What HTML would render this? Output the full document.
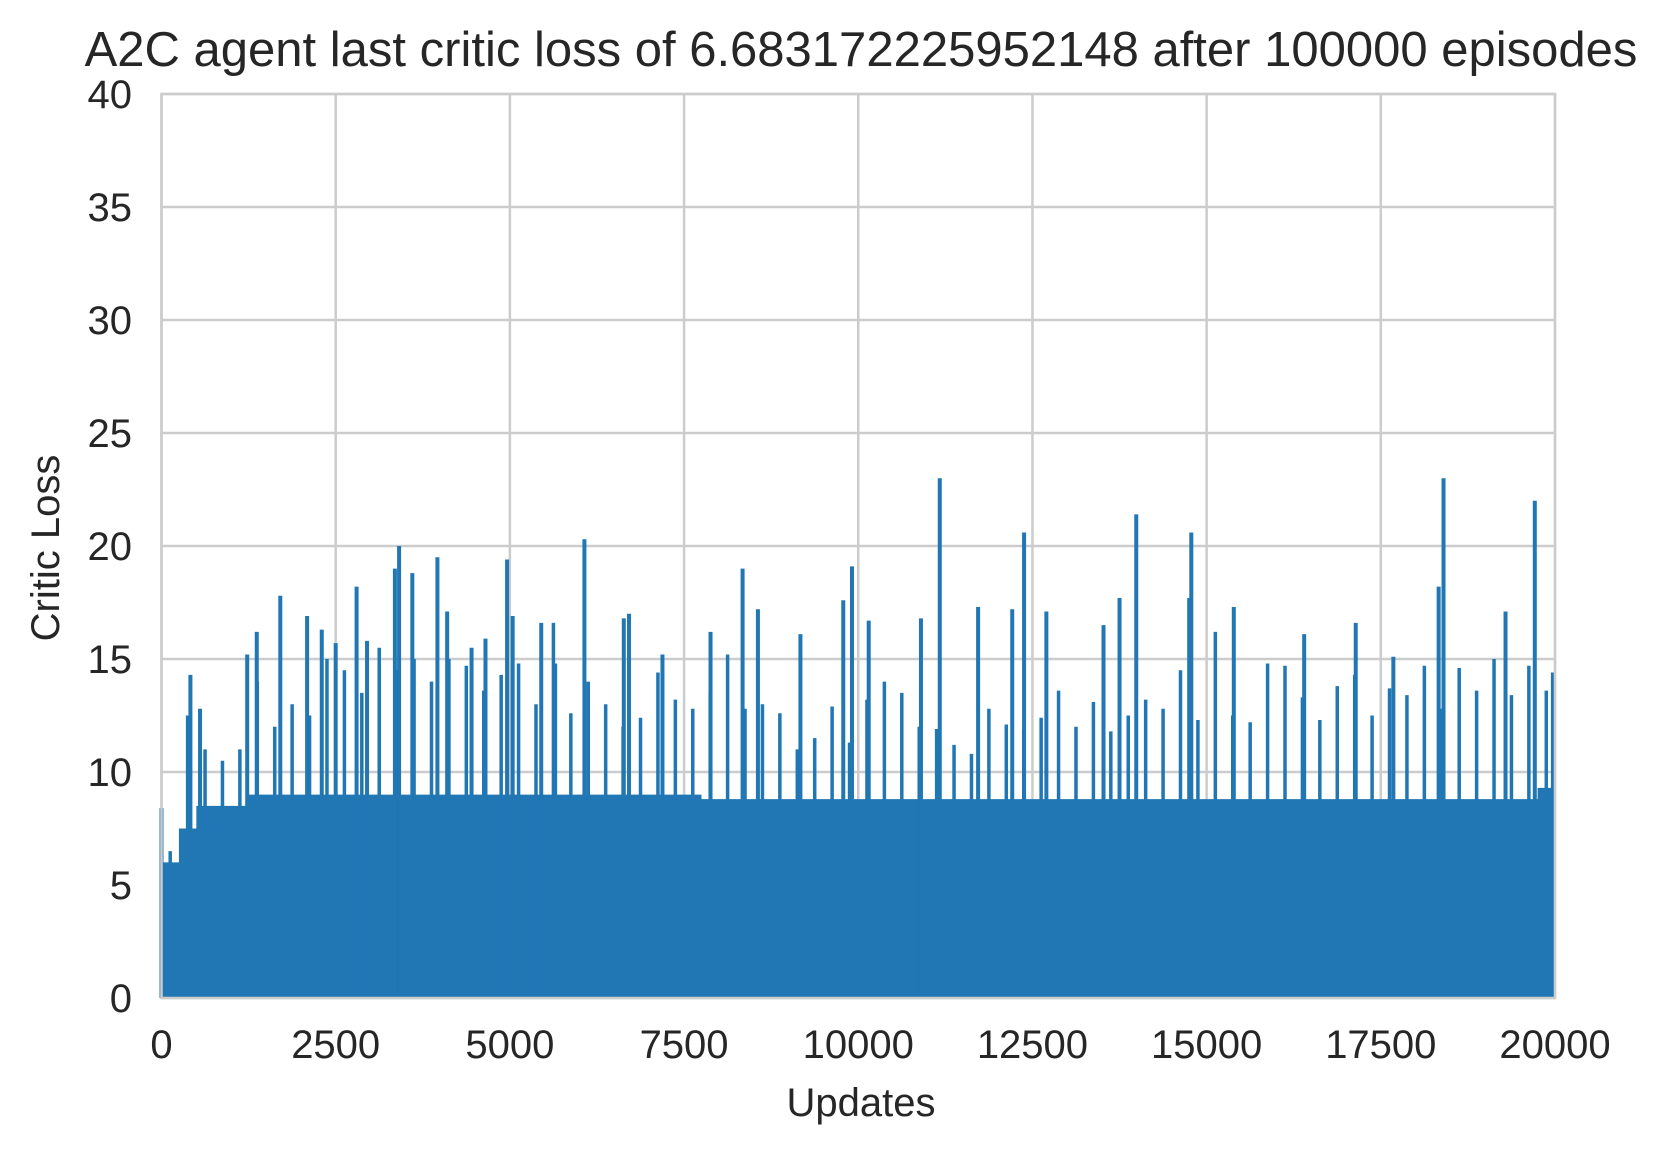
<!DOCTYPE html>
<html><head><meta charset="utf-8"><style>
html,body{margin:0;padding:0;background:#fff;}
svg text{font-family:"Liberation Sans",Arial,sans-serif;fill:#262626;}
</style></head><body>
<svg id="chart" width="1679" height="1149" xmlns="http://www.w3.org/2000/svg">
<text x="861" y="66" font-size="49" text-anchor="middle">A2C agent last critic loss of 6.683172225952148 after 100000 episodes</text>
<g id="grid"></g>
<g id="marks"></g>
<rect x="161.5" y="94" width="1393.5" height="904" fill="none" stroke="#cccccc" stroke-width="2.5"/>
<g id="ticks"></g>
<text x="861" y="1116" font-size="40" text-anchor="middle">Updates</text>
<text x="59" y="548" font-size="40" text-anchor="middle" transform="rotate(-90 59 548)">Critic Loss</text>
</svg>
<script>
const xTicks = [0,2500,5000,7500,10000,12500,15000,17500,20000];
const yTicks = [0,5,10,15,20,25,30,35,40];
const binSize = 250;
const spikeUpdates = [0,415,553,1230,1367,1705,2090,2300,2500,2800,2950,3350,3410,3600,3960,4100,4450,4650,4960,5040,5450,5650,6070,6635,6710,7190,7880,8340,8560,9170,9785,9910,10150,10900,11170,11720,12210,12380,12700,13520,13750,13990,14750,14780,15390,16400,17140,17680,18330,18400,19290,19710,19970];
const spikeValues = [8.4,14.3,12.8,15.2,16.2,17.8,16.9,16.3,15.7,18.2,15.8,19.0,20.0,18.8,19.5,17.1,15.5,15.9,19.4,16.9,16.6,14.8,20.3,16.8,17.0,15.2,16.2,19.0,17.2,16.1,17.6,19.1,16.7,16.8,23.0,17.3,17.2,20.6,17.1,16.5,17.7,21.4,17.7,20.6,17.3,16.1,16.6,15.1,18.2,23.0,17.1,22.0,14.4];
const midPeaks = [6.5,12.5,11.0,10.5,11.0,14.0,12.0,13.0,12.5,15.0,14.5,13.5,15.5,14.5,15.0,14.0,15.0,14.7,13.6,14.3,14.8,13.0,16.6,12.6,14.0,13.0,12.0,12.4,14.4,13.2,12.8,13.5,15.2,12.8,13.0,12.6,11.0,11.5,12.9,11.3,13.2,14.0,13.5,12.0,11.9,11.2,10.8,12.8,12.1,11.9,12.4,13.6,12.0,13.1,11.8,12.5,13.2,12.8,14.5,12.3,16.2,12.5,12.2,14.8,14.7,13.3,12.3,13.8,14.3,12.5,13.7,13.4,14.7,12.8,14.6,13.6,15.0,13.4,14.7,13.6];
const dense = [6.0,7.5,8.5,8.5,8.5,9.0,9.0,9.0,9.0,9.0,9.0,9.0,9.0,9.0,9.0,9.0,9.0,9.0,9.0,9.0,9.0,9.0,9.0,9.0,9.0,9.0,9.0,9.0,9.0,9.0,9.0,8.8,8.8,8.8,8.8,8.8,8.8,8.8,8.8,8.8,8.8,8.8,8.8,8.8,8.8,8.8,8.8,8.8,8.8,8.8,8.8,8.8,8.8,8.8,8.8,8.8,8.8,8.8,8.8,8.8,8.8,8.8,8.8,8.8,8.8,8.8,8.8,8.8,8.8,8.8,8.8,8.8,8.8,8.8,8.8,8.8,8.8,8.8,8.8,9.3];
const X0=161.5,X1=1555,Y0=998,Y1=94;
const xs=v=>X0+(v/20000)*(X1-X0);
const ys=v=>Y0-(v/40)*(Y0-Y1);
const NS="http://www.w3.org/2000/svg";
function mk(tag,attrs,parent){const e=document.createElementNS(NS,tag);for(const k in attrs)e.setAttribute(k,attrs[k]);parent.appendChild(e);return e;}
const grid=document.getElementById('grid'),ticks=document.getElementById('ticks'),marks=document.getElementById('marks');
xTicks.forEach(t=>{
  const l=mk('line',{x1:xs(t),x2:xs(t),y1:Y1,y2:Y0,stroke:'#cccccc','stroke-width':2.5},grid);
  
  
  const tx=mk('text',{x:xs(t),y:1058,'font-size':40,'text-anchor':'middle'},ticks);
  tx.textContent=t;
  
  
});
yTicks.forEach(t=>{
  const l=mk('line',{x1:X0,x2:X1,y1:ys(t),y2:ys(t),stroke:'#cccccc','stroke-width':2.5},grid);
  
  
  const tx=mk('text',{x:132,y:ys(t)+14,'font-size':40,'text-anchor':'end'},ticks);
  tx.textContent=t;
  
  
});
let d='M'+xs(0)+','+ys(0);
dense.forEach((v,i)=>{d+=' L'+xs(i*binSize)+','+ys(v)+' L'+xs((i+1)*binSize)+','+ys(v);});
d+=' L'+xs(20000)+','+ys(0)+' Z';
const f=mk('path',{d:d,fill:'#2077b4'},marks);


midPeaks.forEach((v,i)=>{
  const u=i*binSize+binSize*0.5;
  const l=mk('line',{x1:xs(u),x2:xs(u),y1:ys(0),y2:ys(v),stroke:'#2077b4','stroke-width':3.5},marks);
  
  
});
spikeUpdates.forEach((u,i)=>{
  const l=mk('line',{x1:xs(u),x2:xs(u),y1:ys(0),y2:ys(spikeValues[i]),stroke:'#2077b4','stroke-width':4},marks);
  
  
});
</script>
</body></html>
